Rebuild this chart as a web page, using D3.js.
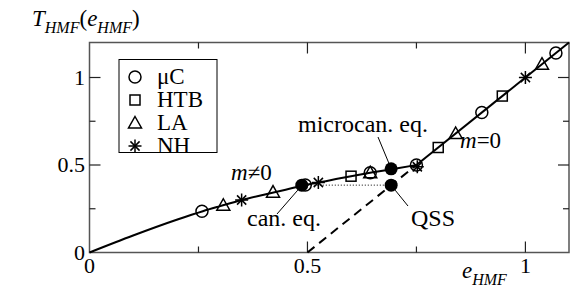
<!DOCTYPE html>
<html>
<head>
<meta charset="utf-8">
<script src="https://cdn.jsdelivr.net/npm/d3@7"></script>
<style>
  body { margin: 0; background: #fff; }
</style>
</head>
<body>
<div id="chart"></div>
<script>
// caloric curve, m != 0 branch
var lowE = [0, 0.1, 0.2, 0.26, 0.3, 0.35, 0.4, 0.45, 0.49, 0.55, 0.6, 0.65, 0.7, 0.75];
var lowT = [0, 0.097, 0.187, 0.236, 0.265, 0.3, 0.33, 0.359, 0.383, 0.412, 0.436, 0.458, 0.479, 0.5];
// m = 0 branch
var highE = [0.75, 1.1];
var highT = [0.5, 1.2];
// QSS dashed branch
var qssE = [0.5, 0.75];
var qssT = [0, 0.5];

// simulation points
var muCE = [0.258, 0.495, 0.644, 0.75, 0.9, 1.07];
var muCT = [0.236, 0.386, 0.456, 0.5, 0.8, 1.14];
var htbE = [0.6, 0.8, 0.947];
var htbT = [0.436, 0.6, 0.894];
var laE = [0.307, 0.421, 0.644, 0.84, 1.038];
var laT = [0.27, 0.345, 0.456, 0.68, 1.076];
var nhE = [0.349, 0.525, 0.752, 1.0];
var nhT = [0.3, 0.4, 0.49, 1.0];

// special points: can. eq., microcan. eq., QSS
var specE = [0.487, 0.692, 0.692];
var specT = [0.385, 0.478, 0.385];

var xTicks = [0, 0.5, 1];
var xMinor = [0.25, 0.75];
var yTicks = [0, 0.5, 1];
var yMinor = [0.25, 0.75];
var legendNames = ["μC", "HTB", "LA", "NH"];

function init() {
    var w = 581, h = 291;
    var pl = 89.5, pr = 569, pt = 42.5, pb = 252.5;
    var serif = "Times New Roman, Times, Liberation Serif, DejaVu Serif, serif";

    var svg = d3.select("#chart").append("svg")
        .attr("width", w)
        .attr("height", h)
        .style("font-family", serif);

    var x = d3.scaleLinear().domain([0, 1.1]).range([pl, pr]);
    var y = d3.scaleLinear().domain([0, 1.2]).range([pb, pt]);

    function pairs(a, b) { return a.map(function(v, i) { return [v, b[i]]; }); }
    function txt(px, py, size) {
        return svg.append("text").attr("x", px).attr("y", py)
            .style("font-family", serif).style("font-size", size + "px");
    }

    // frame
    svg.append("rect")
        .attr("x", pl).attr("y", pt)
        .attr("width", pr - pl).attr("height", pb - pt)
        .attr("fill", "none").attr("stroke", "#555").attr("stroke-width", 1.5);

    // ticks, inward, all four sides
    var tickG = svg.append("g").attr("stroke", "#222").attr("stroke-width", 1.2);
    function addXTicks(vals, len) {
        vals.forEach(function(v) {
            tickG.append("line").attr("x1", x(v)).attr("x2", x(v)).attr("y1", pb).attr("y2", pb - len);
            tickG.append("line").attr("x1", x(v)).attr("x2", x(v)).attr("y1", pt).attr("y2", pt + len);
        });
    }
    function addYTicks(vals, len) {
        vals.forEach(function(v) {
            tickG.append("line").attr("y1", y(v)).attr("y2", y(v)).attr("x1", pl).attr("x2", pl + len);
            tickG.append("line").attr("y1", y(v)).attr("y2", y(v)).attr("x1", pr).attr("x2", pr - len);
        });
    }
    addXTicks(xTicks.slice(1), 11);
    addXTicks(xMinor, 6);
    addYTicks(yTicks.slice(1), 11);
    addYTicks(yMinor, 6);

    // tick labels
    xTicks.forEach(function(d) {
        txt(x(d), 273, 22).attr("text-anchor", "middle").text(d);
    });
    yTicks.forEach(function(d) {
        txt(85, y(d) + 7, 22).attr("text-anchor", "end").text(d);
    });

    // axis titles
    var yt = txt(32, 26, 23).style("font-style", "italic");
    yt.append("tspan").text("T");
    yt.append("tspan").attr("dy", 7).style("font-size", "16px").text("HMF");
    yt.append("tspan").attr("dy", -7).style("font-style", "normal").text("(");
    yt.append("tspan").text("e");
    yt.append("tspan").attr("dy", 7).style("font-size", "16px").text("HMF");
    yt.append("tspan").attr("dy", -7).style("font-style", "normal").text(")");

    var xt = txt(462, 278, 23).style("font-style", "italic");
    xt.append("tspan").text("e");
    xt.append("tspan").attr("dy", 7).style("font-size", "16px").text("HMF");

    // curves
    var line = d3.line().x(function(d) { return x(d[0]); }).y(function(d) { return y(d[1]); });
    svg.append("path")
        .attr("d", line.curve(d3.curveMonotoneX)(pairs(lowE, lowT)))
        .attr("fill", "none").attr("stroke", "#000").attr("stroke-width", 2);
    svg.append("path")
        .attr("d", line.curve(d3.curveLinear)(pairs(highE, highT)))
        .attr("fill", "none").attr("stroke", "#000").attr("stroke-width", 2);
    svg.append("path")
        .attr("d", line(pairs(qssE, qssT)))
        .attr("fill", "none").attr("stroke", "#000").attr("stroke-width", 2)
        .attr("stroke-dasharray", "9,6");
    // dotted link can. eq. -> QSS
    svg.append("line")
        .attr("x1", x(specE[0])).attr("x2", x(specE[2]))
        .attr("y1", y(specT[0])).attr("y2", y(specT[2]))
        .attr("stroke", "#000").attr("stroke-width", 1).attr("stroke-dasharray", "1,2");

    // marker shapes
    function drawMarker(g, kind, cx, cy) {
        var s = g.append("g").attr("transform", "translate(" + cx + "," + cy + ")")
            .attr("fill", "none").attr("stroke", "#000").attr("stroke-width", 1.5);
        if (kind === 0) {
            s.append("circle").attr("r", 6);
        } else if (kind === 1) {
            s.append("rect").attr("x", -5).attr("y", -5).attr("width", 10).attr("height", 10);
        } else if (kind === 2) {
            s.append("path").attr("d", "M0,-6.5L6.5,5L-6.5,5Z");
        } else {
            [0, 45, 90, 135].forEach(function(a) {
                s.append("line").attr("x1", -6.5).attr("x2", 6.5)
                    .attr("transform", "rotate(" + a + ")");
            });
        }
    }
    var mg = svg.append("g");
    var sets = [[muCE, muCT], [htbE, htbT], [laE, laT], [nhE, nhT]];
    sets.forEach(function(set, k) {
        set[0].forEach(function(e, i) { drawMarker(mg, k, x(e), y(set[1][i])); });
    });

    // filled special points
    svg.selectAll(".spec").data(pairs(specE, specT)).enter().append("circle")
        .attr("cx", function(d) { return x(d[0]); })
        .attr("cy", function(d) { return y(d[1]); })
        .attr("r", 6.5).attr("fill", "#000");

    // annotations
    var ann = svg.append("g").attr("stroke", "#000").attr("stroke-width", 1);
    ann.append("line").attr("x1", 378).attr("y1", 137).attr("x2", x(specE[1]) - 2).attr("y2", y(specT[1]) - 5);
    ann.append("line").attr("x1", x(specE[0]) - 4).attr("y1", y(specT[0]) + 5).attr("x2", 277).attr("y2", 214);
    ann.append("line").attr("x1", x(specE[2]) + 4).attr("y1", y(specT[2]) + 5).attr("x2", 408).attr("y2", 206);

    txt(298, 132, 24).text("microcan. eq.");
    txt(247, 226, 24).text("can. eq.");
    txt(411, 226, 24).text("QSS");

    var m1 = txt(231, 180, 23);
    m1.append("tspan").style("font-style", "italic").text("m");
    m1.append("tspan").text("≠0");
    var m0 = txt(460, 148, 23);
    m0.append("tspan").style("font-style", "italic").text("m");
    m0.append("tspan").text("=0");

    // legend
    var lg = svg.append("g");
    lg.append("rect").attr("x", 119).attr("y", 59.5).attr("width", 98).attr("height", 93)
        .attr("fill", "#fff").attr("stroke", "#000").attr("stroke-width", 1);
    legendNames.forEach(function(name, k) {
        var ly = 77 + k * 23;
        drawMarker(lg, k, 135, ly);
        txt(157, ly + 7, 23).text(name);
    });
}
window.onload = init;
</script>
</body>
</html>
